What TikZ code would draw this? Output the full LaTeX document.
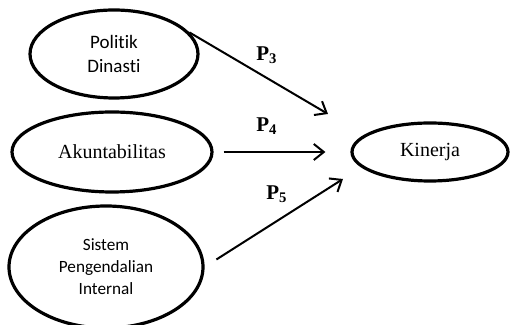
\documentclass[tikz,border=0pt]{standalone}
\usepackage{fontspec}
\setmainfont{Liberation Serif}
\newfontfamily\calibri[Ligatures=NoCommon]{Carlito}
\usetikzlibrary{arrows.meta,shapes.geometric}

\begin{document}
\begin{tikzpicture}[x=0.5pt, y=-0.5pt,
  elips/.style={draw, ellipse, line width=1.6pt, inner sep=0pt, align=center},
  panah/.style={-{Straight Barb[length=5pt,width=8pt]}, line width=1pt},
  koef/.style={font=\fontsize{10.5}{12}\selectfont\bfseries}]
  \useasboundingbox (0,0) rectangle (510,325);
  % Variabel independen
  \node[elips, minimum width=84pt, minimum height=44pt, font=\calibri\fontsize{9.5}{12}\selectfont] (politik) at (114,54) {Politik\\Dinasti};
  \node[elips, minimum width=100pt, minimum height=40pt, font=\fontsize{10}{12}\selectfont] (akun) at (112,152) {Akuntabilitas};
  \node[elips, minimum width=97pt, minimum height=61pt, font=\calibri\fontsize{8.6}{11}\selectfont] (sistem) at (106,267) {Sistem\\Pengendalian\\Internal};
  % Variabel dependen
  \node[elips, minimum width=78pt, minimum height=29pt, font=\fontsize{10}{12}\selectfont] (kinerja) at (430,152) {Kinerja};
  % Jalur
  \coordinate (ujung3) at (328,114);
  \coordinate (ujung5) at (343,179);
  \draw[panah] (politik.16) -- (ujung3);
  \draw[panah, shorten <=5pt, shorten >=12.5pt] (akun.east) -- (kinerja.west);
  \draw[panah, shorten <=7pt] (sistem.east) -- (ujung5);
  \node[koef] (p3) at (267,55) {P\textsubscript{3}};
  \node[koef] (p4) at (267,126) {P\textsubscript{4}};
  \node[koef] (p5) at (277,194) {P\textsubscript{5}};
\end{tikzpicture}
\end{document}
